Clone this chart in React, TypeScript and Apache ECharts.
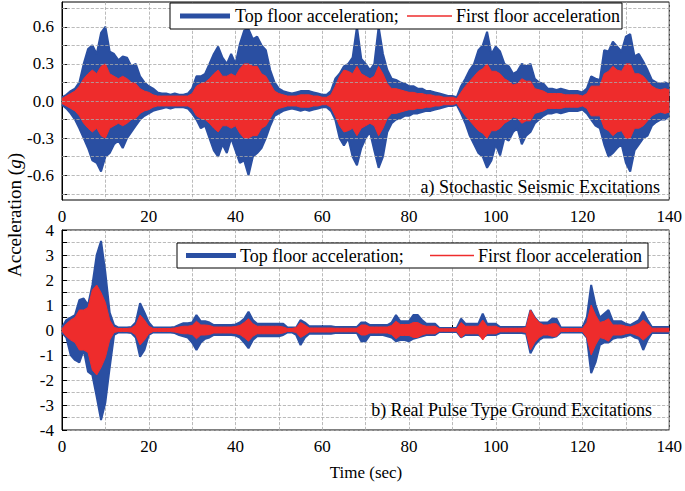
import { useEffect, useRef } from 'react'
import * as echarts from 'echarts'

// time in seconds, one sample per second
const times = Array.from({ length: 141 }, (_, i) => i)

// a) stochastic excitation envelopes (g)
const topUpperA = [0.03,0.05,0.08,0.1,0.15,0.3,0.42,0.45,0.38,0.55,0.6,0.4,0.38,0.33,0.36,0.35,0.28,0.3,0.2,0.15,0.12,
  0.1,0.07,0.06,0.06,0.05,0.06,0.05,0.05,0.06,0.1,0.2,0.2,0.22,0.3,0.38,0.44,0.35,0.3,0.38,0.3,
  0.46,0.57,0.58,0.5,0.52,0.45,0.41,0.25,0.15,0.1,0.08,0.07,0.06,0.07,0.08,0.08,0.08,0.07,0.06,0.05,
  0.05,0.08,0.18,0.22,0.28,0.3,0.35,0.6,0.34,0.3,0.25,0.3,0.6,0.38,0.25,0.18,0.17,0.15,0.14,0.12,
  0.12,0.1,0.1,0.08,0.08,0.07,0.06,0.05,0.04,0.04,0.03,0.12,0.18,0.25,0.3,0.41,0.45,0.56,0.38,0.44,
  0.4,0.3,0.28,0.22,0.24,0.3,0.28,0.3,0.18,0.15,0.14,0.1,0.1,0.09,0.1,0.09,0.08,0.08,0.08,0.07,
  0.1,0.2,0.18,0.17,0.41,0.4,0.48,0.44,0.4,0.52,0.54,0.36,0.38,0.32,0.25,0.17,0.15,0.14,0.15,0.14]
const topLowerA = [-0.03,-0.06,-0.1,-0.15,-0.22,-0.3,-0.38,-0.48,-0.5,-0.57,-0.45,-0.42,-0.35,-0.32,-0.38,-0.3,-0.25,-0.2,-0.15,-0.12,-0.1,
  -0.08,-0.07,-0.06,-0.05,-0.06,-0.05,-0.05,-0.05,-0.06,-0.1,-0.15,-0.22,-0.2,-0.3,-0.4,-0.45,-0.35,-0.42,-0.3,-0.4,
  -0.5,-0.48,-0.6,-0.45,-0.42,-0.38,-0.3,-0.2,-0.12,-0.1,-0.08,-0.07,-0.06,-0.07,-0.08,-0.07,-0.08,-0.07,-0.06,-0.05,
  -0.05,-0.08,-0.15,-0.3,-0.36,-0.3,-0.45,-0.52,-0.38,-0.3,-0.25,-0.4,-0.54,-0.45,-0.25,-0.18,-0.15,-0.14,-0.12,-0.12,
  -0.1,-0.1,-0.09,-0.08,-0.08,-0.07,-0.06,-0.05,-0.04,-0.04,-0.03,-0.1,-0.18,-0.28,-0.35,-0.42,-0.45,-0.54,-0.48,-0.35,
  -0.44,-0.3,-0.32,-0.25,-0.22,-0.35,-0.28,-0.25,-0.18,-0.15,-0.12,-0.1,-0.1,-0.09,-0.1,-0.09,-0.08,-0.08,-0.08,-0.07,
  -0.1,-0.15,-0.2,-0.22,-0.35,-0.45,-0.42,-0.38,-0.35,-0.5,-0.57,-0.4,-0.35,-0.3,-0.28,-0.2,-0.17,-0.15,-0.15,-0.12]
const firstAmpA = [0.02,0.04,0.06,0.08,0.12,0.18,0.22,0.25,0.22,0.28,0.3,0.22,0.2,0.18,0.2,0.18,0.15,0.14,0.1,0.08,0.07,
  0.05,0.04,0.04,0.04,0.04,0.04,0.04,0.04,0.04,0.06,0.12,0.14,0.15,0.18,0.22,0.25,0.2,0.2,0.22,0.2,
  0.26,0.3,0.3,0.28,0.28,0.22,0.2,0.14,0.08,0.06,0.05,0.04,0.04,0.04,0.05,0.05,0.05,0.04,0.04,0.03,
  0.03,0.05,0.12,0.2,0.25,0.24,0.22,0.28,0.22,0.2,0.18,0.2,0.28,0.22,0.14,0.1,0.1,0.09,0.08,0.07,
  0.07,0.06,0.06,0.05,0.05,0.04,0.04,0.03,0.03,0.03,0.02,0.07,0.12,0.16,0.2,0.24,0.26,0.3,0.24,0.24,
  0.22,0.18,0.16,0.13,0.14,0.18,0.16,0.16,0.1,0.09,0.08,0.06,0.06,0.06,0.06,0.05,0.05,0.05,0.05,0.04,
  0.06,0.12,0.12,0.12,0.22,0.24,0.28,0.25,0.24,0.3,0.3,0.22,0.22,0.2,0.16,0.12,0.1,0.09,0.1,0.09]

// b) real pulse-type excitation envelopes (g)
const topUpperB = [0.1,0.4,0.5,0.6,1.2,1.26,1.0,1.8,3.0,3.56,2.3,0.7,0.2,0.1,0.1,0.1,0.12,0.3,1.07,0.7,0.3,
  0.1,0.1,0.1,0.1,0.1,0.12,0.2,0.27,0.27,0.3,0.6,0.35,0.35,0.3,0.2,0.2,0.2,0.2,0.2,0.22,
  0.3,0.45,0.73,0.4,0.25,0.25,0.25,0.25,0.25,0.25,0.25,0.1,0.1,0.1,0.4,0.3,0.15,0.15,0.15,0.15,
  0.15,0.15,0.12,0.12,0.12,0.12,0.12,0.12,0.3,0.3,0.2,0.2,0.2,0.2,0.2,0.3,0.6,0.35,0.35,0.35,
  0.6,0.6,0.4,0.25,0.25,0.25,0.08,0.08,0.08,0.08,0.08,0.45,0.25,0.25,0.25,0.25,0.65,0.25,0.25,0.25,
  0.12,0.12,0.12,0.12,0.12,0.12,0.12,0.8,0.5,0.3,0.3,0.3,0.45,0.45,0.1,0.1,0.1,0.1,0.1,0.1,
  0.5,1.8,1.0,0.5,0.65,0.8,0.35,0.35,0.35,0.25,0.2,0.3,0.4,0.73,0.4,0.12,0.12,0.12,0.12,0.12]
const topLowerB = [-0.1,-0.3,-1.0,-1.2,-1.3,-0.8,-1.67,-1.8,-2.67,-3.6,-2.9,-1.5,-0.2,-0.1,-0.1,-0.1,-0.12,-0.3,-1.07,-0.8,-0.2,
  -0.1,-0.1,-0.1,-0.1,-0.1,-0.12,-0.2,-0.25,-0.3,-0.5,-0.8,-0.5,-0.35,-0.3,-0.2,-0.2,-0.2,-0.2,-0.2,-0.22,
  -0.3,-0.5,-0.73,-0.4,-0.25,-0.25,-0.25,-0.25,-0.25,-0.25,-0.2,-0.1,-0.1,-0.2,-0.6,-0.3,-0.15,-0.15,-0.15,-0.15,
  -0.15,-0.15,-0.12,-0.12,-0.12,-0.12,-0.12,-0.12,-0.45,-0.45,-0.2,-0.2,-0.2,-0.2,-0.25,-0.3,-0.45,-0.4,-0.4,-0.45,
  -0.35,-0.3,-0.25,-0.2,-0.2,-0.2,-0.08,-0.08,-0.08,-0.08,-0.08,-0.3,-0.2,-0.2,-0.2,-0.2,-0.3,-0.2,-0.2,-0.2,
  -0.12,-0.12,-0.12,-0.12,-0.12,-0.12,-0.15,-0.93,-0.6,-0.4,-0.3,-0.3,-0.3,-0.25,-0.1,-0.1,-0.1,-0.1,-0.1,-0.1,
  -0.3,-1.73,-1.3,-0.6,-0.5,-0.5,-0.35,-0.3,-0.3,-0.25,-0.2,-0.3,-0.35,-0.8,-0.4,-0.12,-0.12,-0.12,-0.12,-0.12]
const firstAmpB = [0.05,0.25,0.4,0.5,0.8,0.8,0.9,1.6,1.8,1.5,1.1,0.4,0.1,0.06,0.06,0.06,0.08,0.2,0.6,0.4,0.15,
  0.06,0.06,0.06,0.06,0.06,0.08,0.12,0.15,0.15,0.18,0.35,0.2,0.2,0.18,0.12,0.12,0.12,0.12,0.12,0.14,
  0.18,0.3,0.45,0.25,0.15,0.15,0.15,0.15,0.15,0.15,0.12,0.06,0.06,0.1,0.3,0.2,0.08,0.08,0.08,0.08,
  0.08,0.08,0.07,0.07,0.07,0.07,0.07,0.07,0.2,0.2,0.12,0.12,0.12,0.12,0.12,0.18,0.35,0.22,0.22,0.22,
  0.3,0.3,0.2,0.15,0.15,0.15,0.05,0.05,0.05,0.05,0.05,0.3,0.15,0.15,0.15,0.15,0.4,0.15,0.15,0.15,
  0.07,0.07,0.07,0.07,0.07,0.07,0.1,0.8,0.5,0.3,0.2,0.2,0.25,0.25,0.06,0.06,0.06,0.06,0.06,0.06,
  0.3,1.0,0.6,0.3,0.35,0.45,0.2,0.2,0.2,0.15,0.12,0.18,0.25,0.4,0.25,0.07,0.07,0.07,0.07,0.07]

const gridLinesA = [-0.75, -0.6, -0.45, -0.3, -0.15, 0, 0.15, 0.3, 0.45, 0.6, 0.75]
const tickLabelsA = [-0.6, -0.3, 0, 0.3, 0.6]

const BLUE = '#2a4fa2'
const RED = '#ee2c2c'
const FONT = 'Liberation Serif'

const pairs = (vals: number[], sign = 1) => times.map((t, i) => [t, sign * vals[i]])

function band(name: string, color: string, idx: number, upper: number[][], lower: number[][], z: number, width: number) {
  const base = {
    name, type: 'line', xAxisIndex: idx, yAxisIndex: idx, symbol: 'none', z,
    lineStyle: { color, width }, areaStyle: { color, opacity: 1 }, itemStyle: { color },
  }
  return [{ ...base, data: upper }, { ...base, data: lower }]
}

export default function App() {
  const ref = useRef<HTMLDivElement>(null)

  useEffect(() => {
    if (!ref.current) return
    const chart = echarts.init(ref.current, null, { renderer: 'svg' })
    const xAxisBase = {
      type: 'value', min: 0, max: 140, interval: 10,
      axisLine: { lineStyle: { color: '#000' } },
      axisTick: { inside: true, length: 5, lineStyle: { color: '#000' } },
      axisLabel: { color: '#000', fontSize: 17, fontFamily: FONT, formatter: (v: number) => (v % 20 === 0 ? String(v) : '') },
      splitLine: { show: true, lineStyle: { color: '#aaa', type: 'dashed', width: 0.8 } },
    }
    const txt = { fontFamily: FONT, fill: '#000', verticalAlign: 'middle' }
    chart.setOption({
      animation: false,
      backgroundColor: '#fff',
      textStyle: { fontFamily: FONT },
      grid: [
        { left: 62, right: 15, top: 2, height: 198, show: true, borderColor: '#000', borderWidth: 1 },
        { left: 62, right: 15, top: 230, height: 200, show: true, borderColor: '#000', borderWidth: 1 },
      ],
      xAxis: [{ ...xAxisBase, gridIndex: 0 }, { ...xAxisBase, gridIndex: 1 }],
      yAxis: [
        {
          type: 'value', gridIndex: 0, min: -0.8, max: 0.8,
          axisLine: { show: true, lineStyle: { color: '#000' } },
          axisTick: { inside: true, length: 5, customValues: gridLinesA, lineStyle: { color: '#000' } },
          axisLabel: { color: '#000', fontSize: 17, fontFamily: FONT, customValues: tickLabelsA, formatter: (v: number) => v.toFixed(1) },
          splitLine: { show: false },
        },
        {
          type: 'value', gridIndex: 1, min: -4, max: 4, interval: 0.5,
          axisLine: { show: true, lineStyle: { color: '#000' } },
          axisTick: { inside: true, length: 5, lineStyle: { color: '#000' } },
          axisLabel: { color: '#000', fontSize: 17, fontFamily: FONT, formatter: (v: number) => (Number.isInteger(v) ? String(v) : '') },
          splitLine: { show: true, lineStyle: { color: '#aaa', type: 'dashed', width: 0.8 } },
        },
      ],
      series: [
        {
          type: 'line', xAxisIndex: 0, yAxisIndex: 0, data: [], z: 1, silent: true,
          markLine: {
            symbol: 'none', silent: true, label: { show: false },
            lineStyle: { color: '#aaa', type: 'dashed', width: 0.8 },
            data: gridLinesA.map((v) => ({ yAxis: v })),
          },
        },
        ...band('Top floor acceleration', BLUE, 0, pairs(topUpperA), pairs(topLowerA), 2, 2),
        ...band('First floor acceleration', RED, 0, pairs(firstAmpA), pairs(firstAmpA, -1), 3, 1),
        ...band('Top floor acceleration', BLUE, 1, pairs(topUpperB), pairs(topLowerB), 2, 2),
        ...band('First floor acceleration', RED, 1, pairs(firstAmpB), pairs(firstAmpB, -1), 3, 1),
      ],
      graphic: [
        { type: 'rect', z: 100, shape: { x: 170, y: 3, width: 452, height: 26 }, style: { fill: '#fff', stroke: '#000', lineWidth: 1 } },
        { type: 'line', z: 101, shape: { x1: 180, y1: 16, x2: 230, y2: 16 }, style: { stroke: BLUE, lineWidth: 5 } },
        { type: 'text', z: 101, x: 235, y: 16, style: { ...txt, text: 'Top floor acceleration;', fontSize: 18 } },
        { type: 'line', z: 101, shape: { x1: 407, y1: 16, x2: 452, y2: 16 }, style: { stroke: RED, lineWidth: 1.5 } },
        { type: 'text', z: 101, x: 456, y: 16, style: { ...txt, text: 'First floor acceleration', fontSize: 18 } },

        { type: 'rect', z: 100, shape: { x: 177, y: 243, width: 471, height: 25 }, style: { fill: '#fff', stroke: '#000', lineWidth: 1 } },
        { type: 'line', z: 101, shape: { x1: 186, y1: 255.5, x2: 236, y2: 255.5 }, style: { stroke: BLUE, lineWidth: 5 } },
        { type: 'text', z: 101, x: 240, y: 255.5, style: { ...txt, text: 'Top floor acceleration;', fontSize: 18 } },
        { type: 'line', z: 101, shape: { x1: 430, y1: 255.5, x2: 474, y2: 255.5 }, style: { stroke: RED, lineWidth: 1.5 } },
        { type: 'text', z: 101, x: 478, y: 255.5, style: { ...txt, text: 'First floor acceleration', fontSize: 18 } },

        { type: 'text', z: 101, x: 660, y: 187, style: { ...txt, text: 'a) Stochastic Seismic Excitations', fontSize: 18, align: 'right' } },
        { type: 'text', z: 101, x: 652, y: 410, style: { ...txt, text: 'b) Real Pulse Type Ground Excitations', fontSize: 18, align: 'right' } },
        { type: 'text', z: 101, x: 366, y: 472, style: { ...txt, text: 'Time (sec)', fontSize: 17, align: 'center' } },
        {
          type: 'text', z: 101, x: 14, y: 215, rotation: Math.PI / 2,
          style: {
            ...txt, text: 'Acceleration ({g|g})', fontSize: 19, align: 'center',
            rich: { g: { fontStyle: 'italic', fontSize: 19, fontFamily: FONT } },
          },
        },
      ],
    })
    return () => chart.dispose()
  }, [])

  return <div ref={ref} style={{ position: 'absolute', left: 0, top: 0, width: 685, height: 491 }} />
}
